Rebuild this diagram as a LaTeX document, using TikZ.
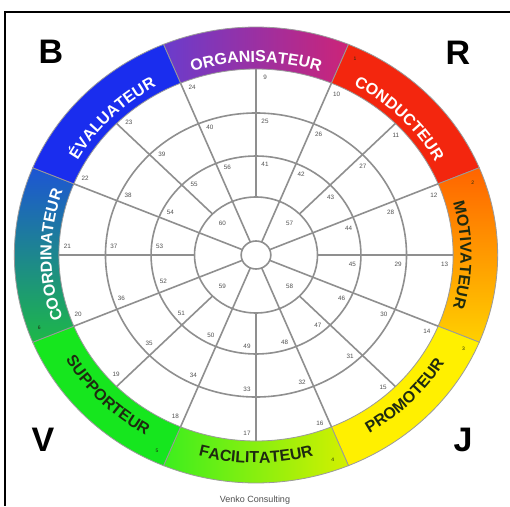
\documentclass[tikz,border=0pt]{standalone}
\usepackage{fontspec}
\setmainfont{Liberation Sans}
\setsansfont{Liberation Sans}
\usetikzlibrary{calc,decorations.text}

\definecolor{gridgray}{HTML}{8F8F8F}
\definecolor{seggray}{HTML}{9A9A9A}
\definecolor{numgray}{HTML}{505050}
\definecolor{orgleft}{HTML}{6A3CCC}
\definecolor{orgright}{HTML}{CC2478}
\definecolor{conred}{HTML}{F3260E}
\definecolor{mottop}{HTML}{FF6400}
\definecolor{motbot}{HTML}{FFD000}
\definecolor{proyel}{HTML}{FFF000}
\definecolor{facleft}{HTML}{3CEE1E}
\definecolor{facright}{HTML}{D4F000}
\definecolor{supgreen}{HTML}{16E61E}
\definecolor{cootop}{HTML}{1D55D4}
\definecolor{coobot}{HTML}{1DB848}
\definecolor{evablue}{HTML}{1A2DEE}
\definecolor{darktxt}{HTML}{1E2A10}
\newcommand\ringfont{\fontsize{16}{16}\selectfont\bfseries}

\begin{document}
\begin{tikzpicture}[x=1.06pt,y=1pt,font=\sffamily,
  grid/.style={draw=gridgray,line width=1.6pt},
  seg/.style={draw=seggray,line width=0.8pt},
  num/.style={font=\fontsize{6.3}{7}\selectfont,text=numgray,inner sep=0pt},
  corner/.style={font=\fontsize{34}{34}\selectfont\bfseries},
  ringtxt/.style={decorate,decoration={text along path,text align=center,text color=#1}},
  orgfill/.style={left color=orgleft,right color=orgright},
  confill/.style={fill=conred},
  motfill/.style={top color=mottop,bottom color=motbot},
  profill/.style={fill=proyel},
  facfill/.style={left color=facleft,right color=facright},
  supfill/.style={fill=supgreen},
  coofill/.style={top color=cootop,bottom color=coobot},
  evafill/.style={fill=evablue}]
\useasboundingbox (-256pt,-251pt) rectangle (254pt,255pt);
\fill[white] (-256pt,-251pt) rectangle (254pt,255pt);
\draw[line width=2.5pt] (254pt,243pt) -| (-251pt,-251pt);
\coordinate (c) at (0,0);

% colour ring
\foreach \m/\look in {90/orgfill,45/confill,0/motfill,-45/profill,-90/facfill,-135/supfill,180/coofill,135/evafill}{
  \pgfmathsetmacro\sa{\m+22.5}
  \pgfmathsetmacro\ea{\m-22.5}
  \path[seg,\look] (\sa:228) arc[start angle=\sa,end angle=\ea,radius=228] -- (\ea:186) arc[start angle=\ea,end angle=\sa,radius=186] -- cycle;
}
\path[ringtxt=white,decoration={text={|\ringfont|ORGANISATEUR}}] (112.5:193) arc[start angle=112.5,end angle=67.5,radius=193];
\path[ringtxt=white,decoration={text={|\ringfont|CONDUCTEUR}}] (67.5:193) arc[start angle=67.5,end angle=22.5,radius=193];
\path[ringtxt=darktxt,decoration={text={|\ringfont|MOTIVATEUR}}] (22.5:193) arc[start angle=22.5,end angle=-22.5,radius=193];
\path[ringtxt=darktxt,decoration={text={|\ringfont|PROMOTEUR}}] (-67.5:208) arc[start angle=-67.5,end angle=-22.5,radius=208];
\path[ringtxt=darktxt,decoration={text={|\ringfont|FACILITATEUR}}] (-112.5:208) arc[start angle=-112.5,end angle=-67.5,radius=208];
\path[ringtxt=darktxt,decoration={text={|\ringfont|SUPPORTEUR}}] (-157.5:208) arc[start angle=-157.5,end angle=-112.5,radius=208];
\path[ringtxt=white,decoration={text={|\ringfont|COORDINATEUR}}] (202.5:193) arc[start angle=202.5,end angle=157.5,radius=193];
\path[ringtxt=white,decoration={text={|\ringfont|ÉVALUATEUR}}] (157.5:193) arc[start angle=157.5,end angle=112.5,radius=193];
\foreach \k/\m in {1/45,2/0,3/-45,4/-90,5/-135,6/180}{
  \pgfmathsetmacro\sa{\m+19.5}
  \node[num,text=darktxt,font=\fontsize{5}{5}\selectfont] (s\k) at (\sa:217) {\k};
}

% wheel
\foreach \r in {14,58,99,142} \draw[grid] (c) circle[radius=\r];
\foreach \a in {22.5,67.5,...,337.5} \draw[grid] (\a:14) -- (\a:186);
\foreach \a in {0,45,...,315} \draw[grid] (\a:58) -- (\a:186);

\foreach \i in {0,...,15}{
  \pgfmathsetmacro\a{90-22.5*\i}
  \pgfmathsetmacro\p{\a-90}
  \pgfmathtruncatemacro\na{9+\i}
  \pgfmathtruncatemacro\nb{25+\i}
  \pgfmathtruncatemacro\nc{41+\i}
  \node[num] (o\i) at ($(\a:178)+(\p:9pt)$) {\na};
  \node[num] (m\i) at ($(\a:134)+(\p:9pt)$) {\nb};
  \node[num] (n\i) at ($(\a:91)+(\p:9pt)$) {\nc};
}
\foreach \k/\a in {57/45,58/-45,59/-135,60/135} \node[num] (i\k) at (\a:45) {\k};

\node[corner] (B) at (-205pt,203pt) {B};
\node[corner] (R) at (202pt,202pt) {R};
\node[corner] (V) at (-213pt,-185pt) {V};
\node[corner] (J) at (207pt,-185pt) {J};
\node[text=numgray,font=\fontsize{9}{9}\selectfont] (venko) at (-1pt,-245pt) {Venko Consulting};
\end{tikzpicture}
\end{document}
